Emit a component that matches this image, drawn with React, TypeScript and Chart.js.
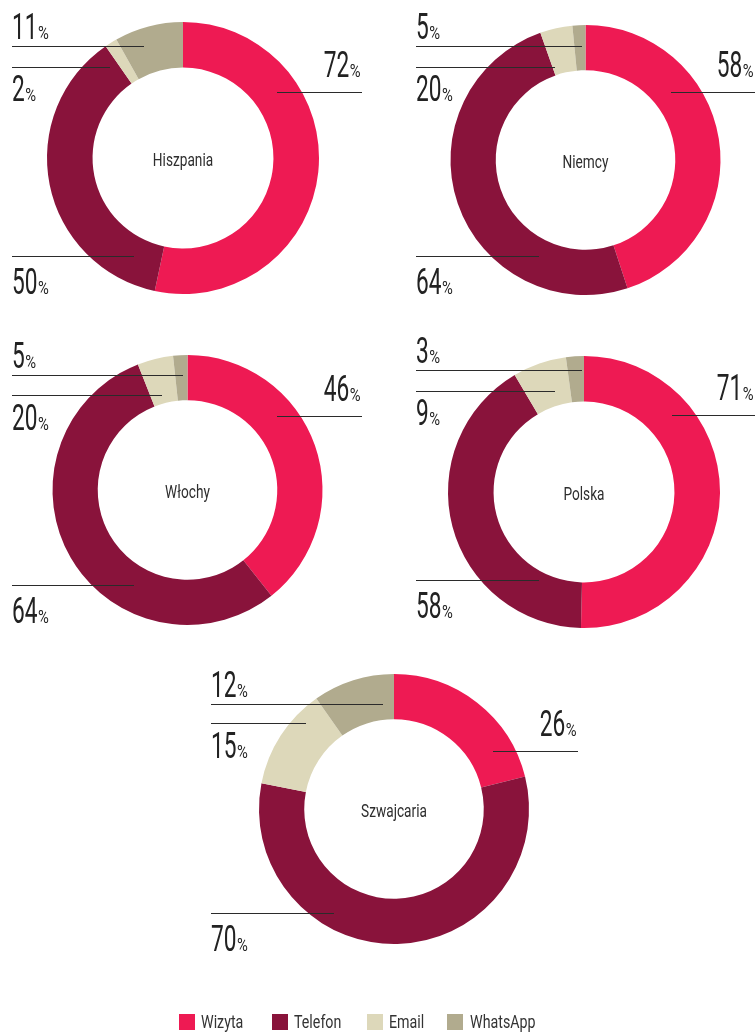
import React, { useEffect, useRef } from 'react';
import { Chart, registerables } from 'chart.js';

Chart.register(...registerables);

// ---------- data ----------
const countries = ['Hiszpania', 'Niemcy', 'Włochy', 'Polska', 'Szwajcaria'];
const categories = ['Wizyta', 'Telefon', 'Email', 'WhatsApp'];
const colors = ['#EE1A53', '#89133B', '#DDD8BA', '#B1AB8E'];

// slice sizes as drawn in the rings
const wizyta = [72, 58, 46, 71, 26];
const telefon = [50, 64, 64, 58, 70];
const email = [2, 5, 5, 9, 15];
const whatsapp = [11, 2, 2, 3, 12];

// values printed next to the rings
const wizytaLabels = ['72', '58', '46', '71', '26'];
const telefonLabels = ['50', '64', '64', '58', '70'];
const emailLabels = ['2', '20', '20', '9', '15'];
const whatsappLabels = ['11', '5', '5', '3', '12'];

// ---------- layout ----------
const PAGE_W = 756;
const PAGE_H = 1033;
const centers = [
  [183, 158],
  [585.5, 160],
  [187.5, 490],
  [584, 492],
  [394, 809],
];
const radii = [136, 135, 135, 136, 135];
const leftX = [12, 416, 12, 416, 211];
const rightX = [362, 755, 362, 755, 578];
// leader lines: [y, inner x]
const wizytaLine = [[91.7, 277], [91.7, 671], [416, 277], [415, 672], [750.7, 493]];
const whatsappLine = [[46, 144], [46, 582], [375, 183], [370, 582], [704, 383]];
const emailLine = [[66.7, 110], [66.7, 555], [395, 162], [390.7, 555], [723.3, 306]];
const telefonLine = [[256, 134], [256, 539], [585, 134], [580, 539], [913.3, 334]];

const legendSquareX = [179, 272, 367, 447];
const legendTextX = [201, 294, 389, 470];

const FONT = "Roboto, 'Liberation Sans', sans-serif";
const SX = 0.63;
const SXP = 0.82;
const TEXT_COLOR = '#222222';

function drawNum(ctx: CanvasRenderingContext2D, text: string, x: number, baseline: number, align: 'left' | 'right') {
  const big = `400 36px ${FONT}`;
  const small = `400 18px ${FONT}`;
  ctx.font = big;
  const w1 = ctx.measureText(text).width * SX;
  ctx.font = small;
  const w2 = ctx.measureText('%').width * SXP;
  const gap = 0.5;
  const x0 = align === 'right' ? x - (w1 + gap + w2) : x;
  ctx.fillStyle = TEXT_COLOR;
  ctx.textAlign = 'left';
  ctx.textBaseline = 'alphabetic';
  ctx.save();
  ctx.translate(x0, baseline);
  ctx.scale(SX, 1);
  ctx.font = big;
  ctx.fillText(text, 0, 0);
  ctx.restore();
  ctx.save();
  ctx.translate(x0 + w1 + gap, baseline);
  ctx.scale(SXP, 1);
  ctx.font = small;
  ctx.fillText('%', 0, 0);
  ctx.restore();
}

function hline(ctx: CanvasRenderingContext2D, x1: number, x2: number, y: number) {
  const yy = Math.round(y) + 0.5;
  ctx.beginPath();
  ctx.moveTo(x1, yy);
  ctx.lineTo(x2, yy);
  ctx.strokeStyle = '#2b2b2b';
  ctx.lineWidth = 1;
  ctx.stroke();
}

function labelPlugin(i: number) {
  return {
    id: 'ringLabels' + i,
    afterDraw(chart: any) {
      const ctx: CanvasRenderingContext2D = chart.ctx;
      ctx.save();
      // Wizyta (right)
      hline(ctx, wizytaLine[i][1], rightX[i], wizytaLine[i][0]);
      drawNum(ctx, wizytaLabels[i], rightX[i] - 1.5, wizytaLine[i][0] - 15, 'right');
      // WhatsApp (top-left, text above)
      hline(ctx, leftX[i], whatsappLine[i][1], whatsappLine[i][0]);
      drawNum(ctx, whatsappLabels[i], leftX[i], whatsappLine[i][0] - 7, 'left');
      // Email (text below)
      hline(ctx, leftX[i], emailLine[i][1], emailLine[i][0]);
      drawNum(ctx, emailLabels[i], leftX[i], emailLine[i][0] + 34.5, 'left');
      // Telefon (text below)
      hline(ctx, leftX[i], telefonLine[i][1], telefonLine[i][0]);
      drawNum(ctx, telefonLabels[i], leftX[i], telefonLine[i][0] + 37.5, 'left');
      // centre name
      const [cx, cy] = centers[i];
      ctx.font = `400 19px ${FONT}`;
      ctx.fillStyle = '#2e2e2e';
      ctx.textAlign = 'center';
      ctx.textBaseline = 'alphabetic';
      ctx.save();
      ctx.translate(cx, cy + 8);
      ctx.scale(0.72, 1);
      ctx.fillText(countries[i], 0, 0);
      ctx.restore();
      ctx.restore();
    },
  };
}

function Ring({ i }: { i: number }) {
  const ref = useRef<HTMLCanvasElement>(null);
  useEffect(() => {
    if (!ref.current) return;
    const [cx, cy] = centers[i];
    const r = radii[i];
    const chart = new Chart(ref.current, {
      type: 'doughnut',
      data: {
        labels: categories,
        datasets: [
          {
            data: [wizyta[i], telefon[i], email[i], whatsapp[i]],
            backgroundColor: colors,
            borderWidth: 0,
          },
        ],
      },
      options: {
        responsive: false,
        animation: false,
        cutout: '66.5%',
        events: [],
        layout: {
          padding: {
            left: cx - r,
            top: cy - r,
            right: PAGE_W - (cx + r),
            bottom: PAGE_H - (cy + r),
          },
        },
        plugins: {
          legend: { display: false },
          tooltip: { enabled: false },
        },
      },
      plugins: [labelPlugin(i)],
    } as any);
    return () => chart.destroy();
  }, [i]);
  return (
    <canvas
      ref={ref}
      width={PAGE_W}
      height={PAGE_H}
      style={{ position: 'absolute', left: 0, top: 0, width: PAGE_W, height: PAGE_H, pointerEvents: 'none' }}
    />
  );
}

export default function App() {
  useEffect(() => {
    document.body.style.margin = '0';
    document.body.style.overflow = 'hidden';
    document.body.style.background = '#ffffff';
  }, []);
  return (
    <div style={{ position: 'absolute', left: 0, top: 0, width: PAGE_W, height: PAGE_H, background: '#fff', overflow: 'hidden' }}>
      {countries.map((_, i) => (
        <Ring key={i} i={i} />
      ))}
      {categories.map((c, k) => (
        <React.Fragment key={c}>
          <div
            style={{
              position: 'absolute',
              left: legendSquareX[k],
              top: 1014,
              width: 16,
              height: 16,
              background: colors[k],
            }}
          />
          <span
            style={{
              position: 'absolute',
              left: legendTextX[k],
              top: 1014,
              fontFamily: FONT,
              fontSize: 19,
              lineHeight: '16px',
              color: '#333',
              whiteSpace: 'nowrap',
              transform: 'scaleX(0.75)',
              transformOrigin: 'left center',
            }}
          >
            {c}
          </span>
        </React.Fragment>
      ))}
    </div>
  );
}
